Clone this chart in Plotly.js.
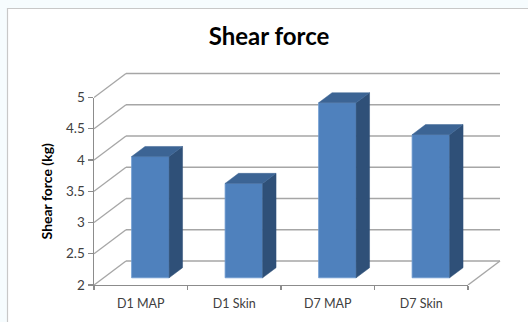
<!DOCTYPE html>
<html>
<head>
<meta charset="utf-8">
<script src="https://cdn.plot.ly/plotly-3.0.1.min.js"></script>
<style>html,body{margin:0;padding:0;background:#f6fcfe}#chart{width:528px;height:322px}</style>
</head>
<body>
<div id="chart"></div>
<script>
const categories = ["D1 MAP", "D1 Skin", "D7 MAP", "D7 Skin"];
const shearForce = [3.94, 3.51, 4.80, 4.29];
const yTicks = [2, 2.5, 3, 3.5, 4, 4.5, 5];
const yTickLabels = ["2", "2.5", "3", "3.5", "4", "4.5", "5"];

// Oblique projection: one unit of depth shifts a point right and up, in axis units.
const depthX = 32 / 93.5;
const depthY = 24 / 62.5;
const barWidth = 0.401;
const barFront = 0.30;
const barBack = 0.72;
const xMin = -0.5, xMax = 3.5;
const yMin = 2, yMax = 5;

const FRONT = "#4f81bd", SIDE = "#2f5078", TOP = "#3c6494", GRID = "#a6a6a6", AXIS = "#8c8c8c";
const project = (x, y, d) => [x + d * depthX, y + d * depthY];

function face(corners, color) {
  const pts = corners.map(c => project(c[0], c[1], c[2]));
  pts.push(pts[0]);
  return {
    type: "scatter", mode: "lines", fill: "toself", fillcolor: color,
    x: pts.map(p => p[0]), y: pts.map(p => p[1]),
    line: {color: color, width: 0.5}, hoverinfo: "skip", showlegend: false
  };
}

const traces = [];
// Front faces of the columns
const frontPts = categories.map((c, i) => project(i, yMin, barFront));
traces.push({
  type: "bar", x: frontPts.map(p => p[0]),
  base: frontPts.map(p => p[1]),
  y: shearForce.map(v => v - yMin),
  width: barWidth,
  marker: {color: FRONT, line: {color: "#6f9bd0", width: 0.8}},
  hoverinfo: "skip", showlegend: false
});
// Side and top faces
shearForce.forEach((v, i) => {
  const l = i - barWidth / 2, r = i + barWidth / 2;
  traces.push(face([[r, yMin, barFront], [r, yMin, barBack], [r, v, barBack], [r, v, barFront]], SIDE));
  traces.push(face([[l, v, barFront], [r, v, barFront], [r, v, barBack], [l, v, barBack]], TOP));
});
// Carries the visible category and value axes
traces.push({
  type: "scatter", mode: "lines", xaxis: "x2", yaxis: "y2",
  x: categories, y: shearForce, line: {width: 0, color: "rgba(0,0,0,0)"},
  hoverinfo: "skip", showlegend: false
});

// Back wall grid lines with their diagonals down to the value axis, plus the floor edge
const gridLine = (a, b) => ({
  type: "line", xref: "x", yref: "y", layer: "below",
  x0: a[0], y0: a[1], x1: b[0], y1: b[1],
  line: {color: GRID, width: 1.4}
});
const shapes = [{
  type: "rect", xref: "paper", yref: "paper", layer: "below",
  x0: (7.5 - 94) / 411, x1: (540 - 94) / 411,
  y0: -0.4, y1: (285 - 8.5) / 220,
  fillcolor: "#ffffff", line: {color: "#c8c8c8", width: 1.2}
}];
yTicks.forEach(t => {
  shapes.push(gridLine(project(xMin, t, 0), project(xMin, t, 1)));
  shapes.push(gridLine(project(xMin, t, 1), project(xMax, t, 1)));
});
shapes.push(gridLine(project(xMax, yMin, 0), project(xMax, yMin, 1)));

const layout = {
  width: 528, height: 322,
  margin: {l: 94, r: 23, t: 65, b: 37},
  paper_bgcolor: "rgba(0,0,0,0)", plot_bgcolor: "rgba(0,0,0,0)",
  font: {family: "Lato, sans-serif", color: "#404040"},
  title: {
    text: "<b>Shear force</b>", x: 269 / 528, xanchor: "center", y: 1 - 37 / 322, yanchor: "middle",
    font: {family: "Lato, sans-serif", size: 24, color: "#000000"}
  },
  bargap: 0,
  xaxis: {type: "linear", visible: false, range: [xMin, xMin + 411 / 93.5], fixedrange: true},
  yaxis: {type: "linear", visible: false, range: [yMin, yMin + 220 / 62.5], fixedrange: true},
  xaxis2: {
    type: "category", categoryorder: "array", categoryarray: categories,
    domain: [0, 374 / 411], anchor: "y2", range: [xMin, xMax],
    tickson: "boundaries", ticks: "outside", ticklen: 4, tickcolor: AXIS, tickwidth: 1.2,
    showline: true, linecolor: AXIS, linewidth: 1.4, showgrid: false, zeroline: false,
    tickfont: {size: 12.5, color: "#404040"}, ticklabelstandoff: 7, fixedrange: true
  },
  yaxis2: {
    type: "linear", domain: [0, 187.5 / 220], anchor: "x2", range: [yMin, yMax],
    tickmode: "array", tickvals: yTicks, ticktext: yTickLabels,
    ticks: "outside", ticklen: 5, tickcolor: AXIS, tickwidth: 1.2,
    showline: true, linecolor: AXIS, linewidth: 1.4, showgrid: false, zeroline: false,
    tickfont: {size: 13.5, color: "#404040"}, fixedrange: true,
    title: {text: "<b>Shear force (kg)</b>", font: {size: 14, color: "#000000"}, standoff: 10}
  },
  shapes: shapes
};

Plotly.newPlot("chart", traces, layout, {displayModeBar: false, staticPlot: true});
</script>
</body>
</html>
